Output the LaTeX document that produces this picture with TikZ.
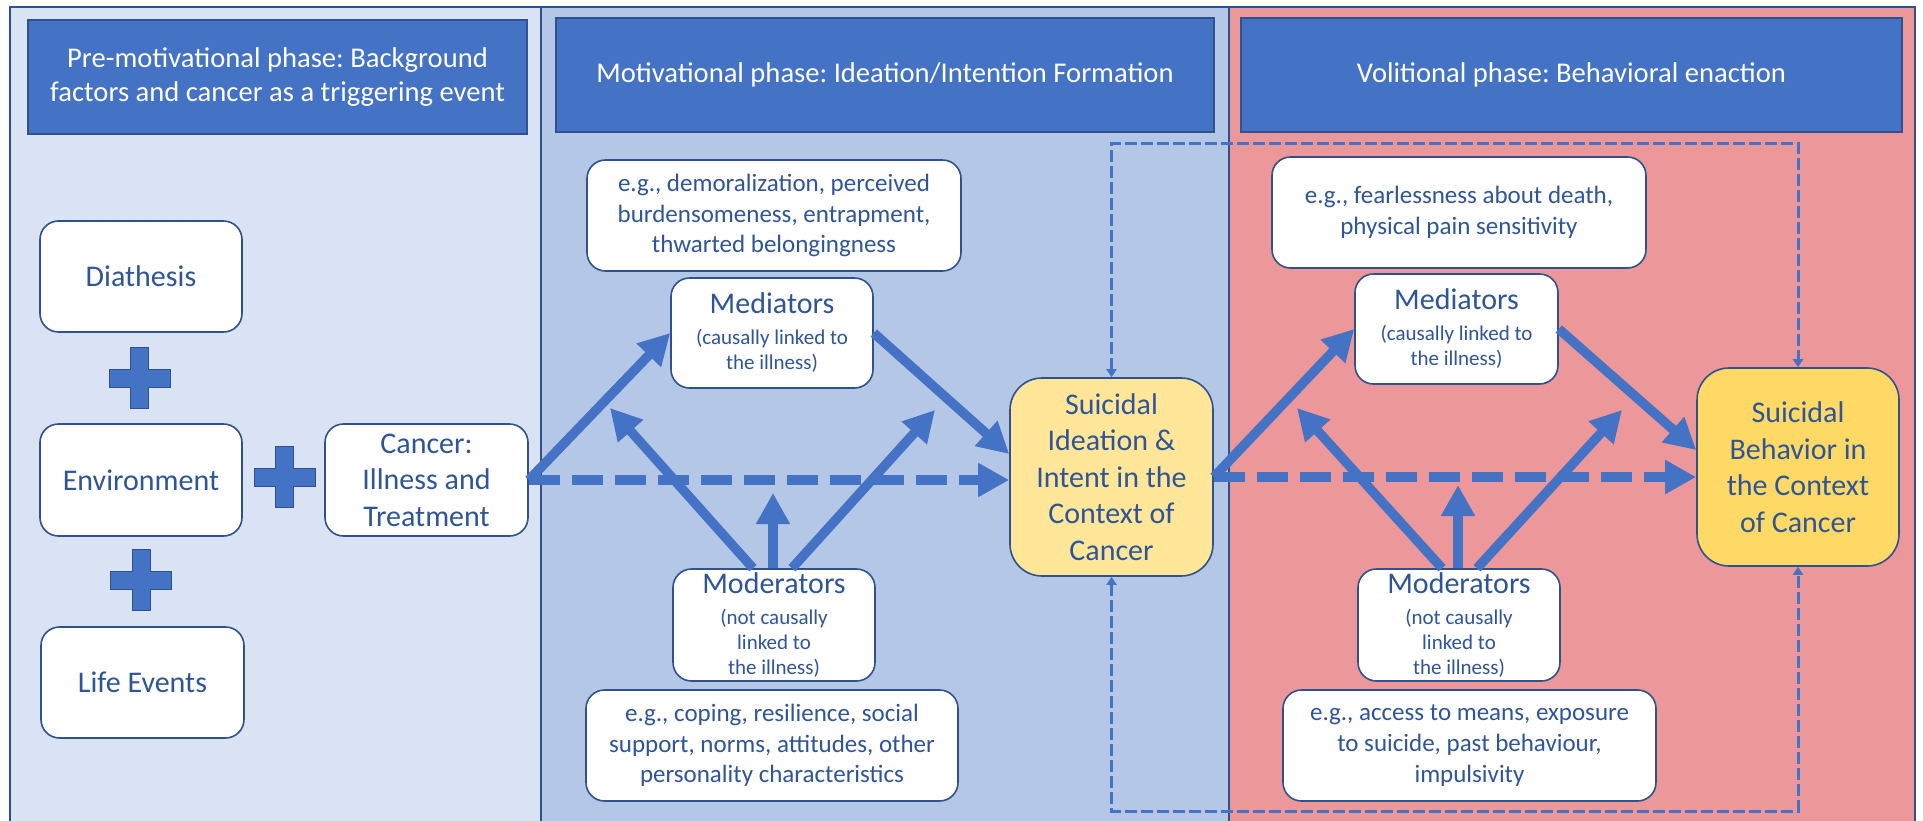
\documentclass[tikz,border=0pt]{standalone}
\usepackage{fontspec}
\setmainfont{Carlito}
\usetikzlibrary{arrows.meta,calc}
\frenchspacing

\definecolor{colA}{HTML}{DAE3F3}
\definecolor{colB}{HTML}{B4C7E7}
\definecolor{colC}{HTML}{EC9799}
\definecolor{hdr}{HTML}{4472C4}
\definecolor{edgec}{HTML}{2F528F}
\definecolor{txt}{HTML}{2F5597}
\definecolor{yelA}{HTML}{FFE699}
\definecolor{yelB}{HTML}{FFD966}

\tikzset{
  header/.style={draw=edgec, line width=0.9pt, fill=hdr, text=white, align=center,
    font=\fontsize{14.3pt}{17.2pt}\selectfont, inner sep=0pt},
  wbox/.style={draw=edgec, line width=0.8pt, fill=white, rounded corners=9.25pt,
    text=txt, align=center, inner sep=0pt, font=\fontsize{15pt}{18.3pt}\selectfont},
  egbox/.style={wbox, font=\fontsize{12.5pt}{15.3pt}\selectfont},
  smallbox/.style={wbox, font=\fontsize{10.5pt}{12.5pt}\selectfont},
  outcome/.style={wbox, rounded corners=16pt},
  bigarrow/.style={draw=hdr, line width=4.75pt, -{Triangle[length=15.5pt,width=16pt]}},
  bigdash/.style={bigarrow, dash pattern=on 15.5pt off 6pt},
  thindash/.style={draw=hdr, line width=1.5pt, dash pattern=on 6pt off 2pt,
    {Triangle[length=4pt,width=5pt]}-{Triangle[length=4pt,width=5pt]}},
  plussign/.pic={\path[fill=hdr, draw=edgec, line width=0.3pt]
    (-9,-30.5) -- (9,-30.5) -- (9,-9) -- (30.5,-9) -- (30.5,9) -- (9,9) -- (9,30.5)
    -- (-9,30.5) -- (-9,9) -- (-30.5,9) -- (-30.5,-9) -- (-9,-9) -- cycle;}
}

\begin{document}
\begin{tikzpicture}[x=0.5pt,y=-0.5pt]
\useasboundingbox (0,0) rectangle (1923,820);
\clip (0,0) rectangle (1923,820);

% columns
\fill[colA] (10,7) rectangle (541,830);
\fill[colB] (541,7) rectangle (1229,830);
\fill[colC] (1229,7) rectangle (1915,830);
\draw[edgec, line width=0.75pt] (10,830) -- (10,7) -- (1915,7) -- (1915,830);
\draw[edgec, line width=0.75pt] (541,7) -- (541,830);
\draw[edgec, line width=0.75pt] (1229,7) -- (1229,830);

% headers
\node[header, minimum width=249.5pt, minimum height=57pt] (H1) at (277.5,77)
  {Pre-motivational phase: Background\\factors and cancer as a triggering event};
\node[header, minimum width=329pt, minimum height=57pt] (H2) at (885,75)
  {Motivational phase: Ideation/Intention Formation};
\node[header, minimum width=330.5pt, minimum height=57pt] (H3) at (1571.5,75)
  {Volitional phase: Behavioral enaction};

% pre-motivational column
\node[wbox, minimum width=101pt, minimum height=55.5pt] (Dia) at (141,276.5) {Diathesis};
\node[wbox, minimum width=101pt, minimum height=56pt] (Env) at (141,480) {Environment};
\node[wbox, minimum width=101.5pt, minimum height=55.5pt] (Life) at (142.5,682.5) {Life Events};
\node[wbox, minimum width=101.5pt, minimum height=56pt] (Cancer) at (426.5,480)
  {Cancer:\\Illness and\\Treatment};
\pic at (139.5,378) {plussign};
\pic at (284.5,477) {plussign};
\pic at (141,580) {plussign};

% motivational column
\node[egbox, minimum width=187pt, minimum height=55.5pt] (egA1) at (774,215.5)
  {e.g., demoralization, perceived\\burdensomeness, entrapment,\\thwarted belongingness};
\node[smallbox, minimum width=101pt, minimum height=55pt] (MedA) at (772,333)
  {{\fontsize{15pt}{18pt}\selectfont Mediators}\\[3pt](causally linked to\\the illness)};
\node[smallbox, minimum width=101pt, minimum height=56pt] (ModA) at (774,625)
  {{\fontsize{15pt}{18pt}\selectfont Moderators}\\[3pt](not causally\\linked to\\the illness)};
\node[egbox, minimum width=186pt, minimum height=55.5pt] (egA2) at (772,745.5)
  {e.g., coping, resilience, social\\support, norms, attitudes, other\\personality characteristics};
\node[outcome, fill=yelA, minimum width=101.5pt, minimum height=99pt] (SI) at (1111.5,477)
  {Suicidal\\Ideation \&\\Intent in the\\Context of\\Cancer};

% volitional column
\node[egbox, minimum width=187pt, minimum height=55.5pt] (egB1) at (1459,212.5)
  {e.g., fearlessness about death,\\physical pain sensitivity};
\node[smallbox, minimum width=101.5pt, minimum height=55pt] (MedB) at (1456.5,329)
  {{\fontsize{15pt}{18pt}\selectfont Mediators}\\[3pt](causally linked to\\the illness)};
\node[smallbox, minimum width=101pt, minimum height=56pt] (ModB) at (1459,625)
  {{\fontsize{15pt}{18pt}\selectfont Moderators}\\[3pt](not causally\\linked to\\the illness)};
\node[egbox, minimum width=186.5pt, minimum height=55.5pt] (egB2) at (1469.5,745.5)
  {e.g., access to means, exposure\\to suicide, past behaviour,\\impulsivity};
\node[outcome, fill=yelB, minimum width=101pt, minimum height=99pt] (SB) at (1798,467)
  {Suicidal\\Behavior in\\the Context\\of Cancer};

% thin dashed feedback paths
\coordinate (tc) at (0,143);
\coordinate (bc) at (0,811);
\draw[thindash] (SI.north) -- (SI.north |- tc) -- (SB.north |- tc) -- (SB.north);
\draw[thindash] (SI.south) -- (SI.south |- bc) -- (SB.south |- bc) -- (SB.south);

% motivational arrows
\draw[bigdash] (Cancer.east) -- (Cancer.east -| SI.west);
\draw[bigarrow] (Cancer.east) -- (MedA.west);
\draw[bigarrow] (MedA.east) -- ($(SI.west)+(0,-23)$);
\coordinate (mA1) at (610,408);
\coordinate (mA2) at (773,493);
\coordinate (mA3) at (935,410);
\draw[bigarrow] ($(ModA.north)+(-21,0)$) -- (mA1);
\draw[bigarrow] ($(ModA.north)+(-1,0)$) -- (mA2);
\draw[bigarrow] ($(ModA.north)+(18,0)$) -- (mA3);

% volitional arrows
\draw[bigdash] (SI.east) -- (SI.east -| SB.west);
\draw[bigarrow] (SI.east) -- (MedB.west);
\draw[bigarrow] (MedB.east) -- ($(SB.west)+(0,-17)$);
\coordinate (mB1) at (1297,408);
\coordinate (mB2) at (1458,485);
\coordinate (mB3) at (1622,410);
\draw[bigarrow] ($(ModB.north)+(-17,0)$) -- (mB1);
\draw[bigarrow] ($(ModB.north)+(-1,0)$) -- (mB2);
\draw[bigarrow] ($(ModB.north)+(18,0)$) -- (mB3);
\end{tikzpicture}
\end{document}
